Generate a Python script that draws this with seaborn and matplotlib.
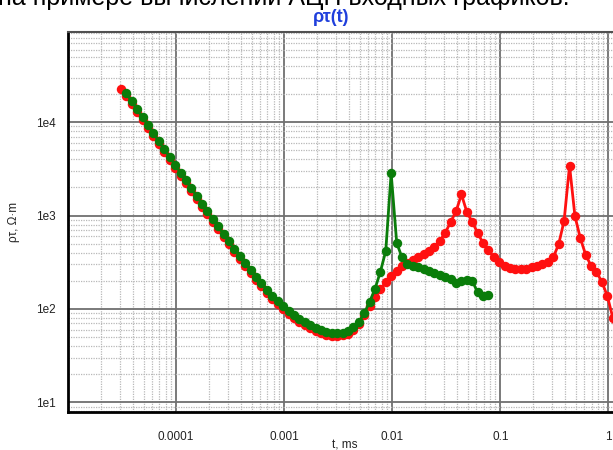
import matplotlib
matplotlib.use("Agg")
import matplotlib.pyplot as plt
import seaborn as sns
from matplotlib.ticker import FixedLocator, FixedFormatter, LogLocator, NullFormatter

# ---- data ----
t_red = [3.09e-5, 3.47e-5, 3.89e-5, 4.37e-5, 4.90e-5, 5.50e-5, 6.17e-5, 6.92e-5, 7.76e-5, 8.71e-5,
         9.77e-5, 1.10e-4, 1.23e-4, 1.38e-4, 1.55e-4, 1.74e-4, 1.95e-4, 2.19e-4, 2.45e-4, 2.75e-4,
         3.09e-4, 3.47e-4, 3.89e-4, 4.37e-4, 4.90e-4, 5.50e-4, 6.17e-4, 6.92e-4, 7.76e-4, 8.71e-4,
         9.77e-4, 1.10e-3, 1.23e-3, 1.38e-3, 1.55e-3, 1.74e-3, 1.95e-3, 2.19e-3, 2.45e-3, 2.75e-3,
         3.09e-3, 3.47e-3, 3.89e-3, 4.37e-3, 4.90e-3, 5.50e-3, 6.17e-3, 6.92e-3, 7.76e-3, 8.71e-3,
         9.77e-3, 0.0110, 0.0123, 0.0138, 0.0155, 0.0174, 0.0195, 0.0219, 0.0245, 0.0275,
         0.0309, 0.0347, 0.0389, 0.0437, 0.0490, 0.0550, 0.0617, 0.0692, 0.0776, 0.0871,
         0.0977, 0.110, 0.123, 0.138, 0.155, 0.174, 0.195, 0.219, 0.245, 0.275,
         0.309, 0.347, 0.389, 0.437, 0.490, 0.550, 0.617, 0.692, 0.776, 0.871,
         0.977, 1.10, 1.23]
rho_red = [22600, 18960, 15530, 12750, 10470, 8616, 7091, 5836, 4804, 3953,
           3254, 2685, 2214, 1827, 1508, 1247, 1031, 855, 711, 591,
           492, 411, 344, 289, 243, 206, 175, 150, 129, 112,
           99.1, 88.5, 79.8, 72.7, 66.9, 62.0, 58.2, 55.1, 53.0, 51.7,
           51.2, 52.0, 54.3, 59.0, 69.1, 86.2, 107.7, 132.8, 161.7, 192.1,
           222.8, 255.3, 285.1, 308.6, 332.2, 357.7, 385.1, 417.8, 461.2, 534.6,
           651.1, 854.0, 1106, 1682, 1093, 854.0, 651.1, 508.8, 423.0, 360.3,
           314.7, 288.7, 274.8, 266.2, 264.8, 269.4, 278.2, 288.7, 299.5, 318.6,
           356.0, 496.4, 875.3, 3422, 990.1, 571.5, 378.6, 288.7, 248.9, 194.5,
           137.8, 80.1, 41.2]

t_green = t_red[1:69]
rho_green = [20390, 16700, 13710, 11260, 9265, 7625, 6275, 5166, 4251,
             3499, 2887, 2381, 1965, 1621, 1341, 1109, 919.6, 764.3, 635.3,
             529.4, 442.2, 370.2, 310.8, 261.6, 221.2, 188.0, 160.9, 138.8, 120.9,
             106.6, 95.2, 85.8, 78.2, 71.9, 66.7, 62.6, 59.3, 57.0, 55.6,
             55.1, 55.9, 58.4, 63.4, 72.6, 89.5, 118.8, 163.7, 248.9, 417.8,
             2838, 508.8, 357.7, 303.3, 288.7, 278.2, 268.1, 255.3, 242.9, 231.2,
             220.0, 206.9, 189.8, 199.5, 204.5, 199.5, 150.2, 136.1, 141.2]

x_ticks = [1e-5, 1e-4, 1e-3, 1e-2, 1e-1, 1]
x_labels = ["", "0.0001", "0.001", "0.01", "0.1", "1"]
y_ticks = [10, 100, 1000, 10000]
y_labels = ["1e1", "1e2", "1e3", "1e4"]

# ---- style ----
sns.set_style("white")
plt.rcParams["font.family"] = ["Liberation Sans", "DejaVu Sans"]

fig = plt.figure(figsize=(6.13, 4.5), dpi=100)
ax = fig.add_axes([68 / 613, 1 - 411.7 / 450, 1 - 68 / 613, (411.7 - 32.3) / 450])
ax.set_xscale("log")
ax.set_yscale("log")

sns.lineplot(x=t_red, y=rho_red, ax=ax, color="#ff1010", marker="o", markersize=6.8,
             markeredgewidth=0, linewidth=2.0, zorder=3)
sns.lineplot(x=t_green, y=rho_green, ax=ax, color="#0a7d0a", marker="o", markersize=6.8,
             markeredgewidth=0, linewidth=2.0, zorder=4)

ax.set_xlim(1e-5, 1.103)
ax.set_ylim(7.94, 9.17e4)

ax.xaxis.set_major_locator(FixedLocator(x_ticks))
ax.xaxis.set_major_formatter(FixedFormatter(x_labels))
ax.yaxis.set_major_locator(FixedLocator(y_ticks))
ax.yaxis.set_major_formatter(FixedFormatter(y_labels))
ax.xaxis.set_minor_locator(LogLocator(base=10, subs=[2, 3, 4, 5, 6, 7, 8, 9], numticks=20))
ax.yaxis.set_minor_locator(LogLocator(base=10, subs=[2, 3, 4, 5, 6, 7, 8, 9], numticks=20))
ax.xaxis.set_minor_formatter(NullFormatter())
ax.yaxis.set_minor_formatter(NullFormatter())

ax.set_axisbelow(True)
ax.grid(which="major", color="#707070", linewidth=1.3, linestyle="-")
ax.grid(which="minor", color="#b8b8b8", linewidth=0.9, linestyle=(0, (1, 1)))

ax.tick_params(which="major", length=5, width=1.3, color="#404040",
               labelsize=8.5, labelcolor="#222222")
ax.tick_params(axis="x", which="major", pad=9)
ax.tick_params(axis="y", which="major", pad=4)
ax.tick_params(which="minor", length=4, width=0.8, color="#b8b8b8")

for side in ["left", "bottom"]:
    ax.spines[side].set_color("black")
    ax.spines[side].set_linewidth(2.0)
ax.spines["top"].set_color("#505050")
ax.spines["top"].set_linewidth(1.5)
ax.spines["right"].set_visible(False)

ax.set_xlabel("")
ax.set_ylabel("")

fig.text(-0.003, 1 - 5 / 450, "на примере вычислений АЦП входных графиков.", fontsize=18,
         ha="left", va="baseline", color="black")
fig.text(331 / 613, 1 - 18 / 450, "ρτ(t)", color="#1f3fdc", fontweight="bold",
         fontsize=13, ha="center", va="center")
fig.text(14 / 613, 1 - 222 / 450, "ρτ, Ω·m", rotation=90, ha="center", va="center",
         fontsize=8.5, color="#222222")
fig.text(345 / 613, 1 - 446 / 450, "t, ms", ha="center", va="center", fontsize=8.5,
         color="#222222")

fig.savefig("out.png", dpi=100)
